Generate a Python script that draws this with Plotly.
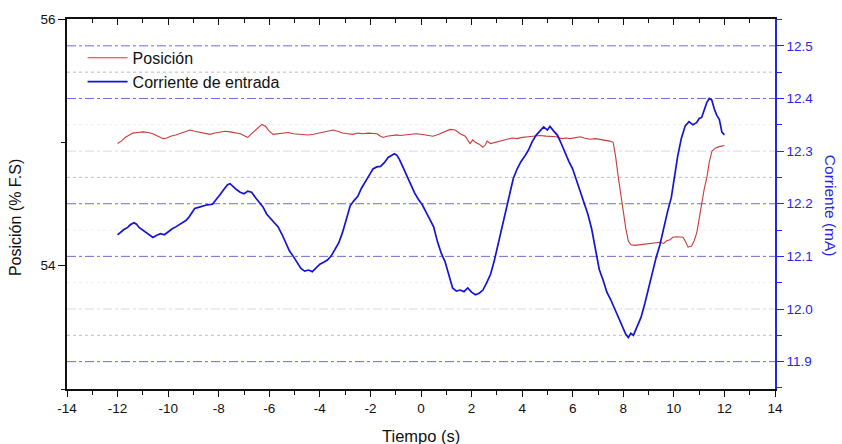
import plotly.graph_objects as go

# ---- Posición (% F.S) vs tiempo ----
t_pos = [-12.00, -11.85, -11.70, -11.55, -11.40, -11.20, -11.00, -10.80, -10.60, -10.40,
         -10.20, -10.05, -9.90, -9.70, -9.50, -9.30, -9.13, -8.95, -8.75, -8.55,
         -8.34, -8.15, -7.95, -7.75, -7.55, -7.35, -7.15, -6.95, -6.85, -6.70,
         -6.55, -6.40, -6.29, -6.15, -6.00, -5.85, -5.65, -5.45, -5.25, -5.05,
         -4.85, -4.65, -4.45, -4.25, -4.05, -3.85, -3.65, -3.48, -3.30, -3.10,
         -2.90, -2.69, -2.50, -2.30, -2.10, -1.90, -1.74, -1.60, -1.50, -1.35,
         -1.15, -0.95, -0.83, -0.60, -0.40, -0.20, 0.00, 0.20, 0.47, 0.70,
         0.95, 1.15, 1.35, 1.55, 1.75, 1.85, 1.94, 2.05, 2.15, 2.30,
         2.45, 2.55, 2.61, 2.75, 2.95, 3.12, 3.40, 3.60, 3.80, 4.00,
         4.25, 4.45, 4.70, 4.95, 5.15, 5.35, 5.55, 5.77, 5.90, 6.10,
         6.30, 6.45, 6.68, 6.90, 7.10, 7.30, 7.47, 7.60, 7.70, 7.80,
         7.90, 8.00, 8.10, 8.20, 8.30, 8.45, 8.66, 8.85, 9.05, 9.25,
         9.45, 9.60, 9.70, 9.85, 9.96, 10.10, 10.25, 10.36, 10.45, 10.56,
         10.70, 10.80, 10.91, 11.00, 11.11, 11.20, 11.31, 11.40, 11.51, 11.65,
         11.80, 12.00]
posicion = [54.99, 55.01, 55.04, 55.06, 55.075, 55.08, 55.085, 55.08, 55.07, 55.05,
            55.03, 55.035, 55.05, 55.06, 55.075, 55.09, 55.10, 55.09, 55.08, 55.07,
            55.065, 55.075, 55.085, 55.09, 55.085, 55.075, 55.07, 55.05, 55.04, 55.07,
            55.10, 55.13, 55.145, 55.13, 55.09, 55.065, 55.07, 55.075, 55.08, 55.07,
            55.065, 55.06, 55.06, 55.065, 55.075, 55.08, 55.09, 55.10, 55.09, 55.075,
            55.07, 55.065, 55.075, 55.07, 55.075, 55.07, 55.07, 55.05, 55.04, 55.05,
            55.055, 55.06, 55.056, 55.06, 55.065, 55.07, 55.065, 55.06, 55.05, 55.065,
            55.09, 55.105, 55.10, 55.07, 55.05, 55.02, 54.99, 55.02, 55.00, 54.985,
            54.96, 54.98, 55.01, 54.99, 55.00, 55.01, 55.02, 55.035, 55.03, 55.04,
            55.045, 55.05, 55.056, 55.05, 55.045, 55.045, 55.03, 55.035, 55.03, 55.035,
            55.045, 55.035, 55.025, 55.03, 55.025, 55.02, 55.01, 55.00, 54.88, 54.72,
            54.57, 54.43, 54.30, 54.20, 54.17, 54.165, 54.17, 54.175, 54.18, 54.185,
            54.19, 54.18, 54.20, 54.21, 54.23, 54.235, 54.23, 54.23, 54.20, 54.15,
            54.16, 54.20, 54.27, 54.38, 54.50, 54.62, 54.72, 54.84, 54.93, 54.955,
            54.965, 54.975]

# ---- Corriente de entrada (mA) vs tiempo ----
t_cor = [-12.00, -11.90, -11.75, -11.60, -11.50, -11.35, -11.25, -11.15, -11.00, -10.85,
         -10.70, -10.60, -10.45, -10.30, -10.15, -10.00, -9.85, -9.70, -9.55, -9.45,
         -9.30, -9.20, -9.05, -8.95, -8.80, -8.62, -8.45, -8.25, -8.10, -7.95,
         -7.80, -7.65, -7.55, -7.45, -7.30, -7.15, -7.00, -6.85, -6.70, -6.55,
         -6.40, -6.25, -6.10, -5.95, -5.80, -5.65, -5.50, -5.35, -5.20, -5.05,
         -4.90, -4.75, -4.60, -4.45, -4.30, -4.15, -4.00, -3.85, -3.70, -3.55,
         -3.40, -3.25, -3.10, -2.95, -2.80, -2.65, -2.50, -2.35, -2.20, -2.05,
         -1.90, -1.75, -1.60, -1.45, -1.30, -1.15, -1.05, -0.95, -0.85, -0.70,
         -0.55, -0.40, -0.25, -0.10, 0.05, 0.20, 0.35, 0.50, 0.65, 0.80,
         0.95, 1.10, 1.25, 1.40, 1.55, 1.70, 1.85, 2.00, 2.15, 2.30,
         2.45, 2.60, 2.75, 2.90, 3.05, 3.20, 3.35, 3.50, 3.65, 3.80,
         3.95, 4.10, 4.25, 4.40, 4.55, 4.70, 4.85, 5.00, 5.10, 5.25,
         5.40, 5.55, 5.70, 5.85, 6.00, 6.15, 6.30, 6.45, 6.60, 6.75,
         6.90, 7.05, 7.20, 7.35, 7.50, 7.65, 7.80, 7.95, 8.10, 8.20,
         8.30, 8.40, 8.55, 8.70, 8.85, 9.00, 9.15, 9.30, 9.45, 9.60,
         9.75, 9.90, 10.05, 10.15, 10.30, 10.45, 10.60, 10.75, 10.90, 11.00,
         11.10, 11.20, 11.30, 11.40, 11.50, 11.60, 11.70, 11.80, 11.90, 12.00]
corriente = [12.141, 12.145, 12.151, 12.155, 12.160, 12.164, 12.161, 12.155, 12.150, 12.145,
             12.139, 12.136, 12.140, 12.143, 12.141, 12.147, 12.152, 12.156, 12.160, 12.163,
             12.168, 12.173, 12.183, 12.191, 12.193, 12.196, 12.198, 12.199, 12.207, 12.217,
             12.227, 12.236, 12.238, 12.233, 12.227, 12.222, 12.219, 12.224, 12.222, 12.212,
             12.203, 12.194, 12.180, 12.172, 12.162, 12.156, 12.142, 12.126, 12.110, 12.100,
             12.089, 12.077, 12.072, 12.074, 12.071, 12.079, 12.085, 12.089, 12.093, 12.101,
             12.114, 12.126, 12.146, 12.172, 12.196, 12.206, 12.214, 12.230, 12.243, 12.254,
             12.266, 12.270, 12.271, 12.278, 12.288, 12.293, 12.295, 12.292, 12.284, 12.268,
             12.251, 12.236, 12.220, 12.208, 12.198, 12.184, 12.170, 12.156, 12.128, 12.106,
             12.090, 12.066, 12.040, 12.034, 12.036, 12.033, 12.040, 12.032, 12.027, 12.030,
             12.036, 12.050, 12.066, 12.092, 12.124, 12.158, 12.190, 12.221, 12.248, 12.266,
             12.280, 12.290, 12.302, 12.318, 12.330, 12.338, 12.346, 12.340, 12.347, 12.338,
             12.330, 12.314, 12.296, 12.280, 12.266, 12.245, 12.222, 12.200, 12.180, 12.152,
             12.110, 12.075, 12.055, 12.032, 12.018, 12.002, 11.983, 11.968, 11.952, 11.946,
             11.954, 11.950, 11.968, 11.984, 12.010, 12.040, 12.068, 12.098, 12.122, 12.155,
             12.185, 12.212, 12.262, 12.290, 12.325, 12.348, 12.356, 12.350, 12.354, 12.362,
             12.364, 12.378, 12.392, 12.400, 12.397, 12.380, 12.368, 12.360, 12.336, 12.331]

# ---- ejes ----
x_ticks = list(range(-14, 15, 2))
x_tick_text = [str(v) for v in x_ticks]
pos_ticks = [54, 56]
cor_ticks = [11.9, 12.0, 12.1, 12.2, 12.3, 12.4, 12.5]

# líneas de referencia sobre el eje de corriente
grid_main = [12.5, 12.4, 12.2, 12.1, 11.9]
grid_soft = [12.3, 12.0]
grid_half = [12.45, 12.25, 11.95]
grid_faint = [12.35, 12.15, 12.05]

FONT = "Arial, Liberation Sans, sans-serif"
RED = "#c83a3a"
BLUE = "#1414d2"
AXIS_BLUE = "#2626e6"

fig = go.Figure()
fig.add_trace(go.Scatter(x=t_pos, y=posicion, name="Posición", mode="lines",
                         line=dict(color=RED, width=1.1), yaxis="y"))
fig.add_trace(go.Scatter(x=t_cor, y=corriente, name="Corriente de entrada", mode="lines",
                         line=dict(color=BLUE, width=1.7), yaxis="y2"))

shapes = []
for v in grid_main:
    shapes.append(dict(type="line", xref="paper", x0=0, x1=1, yref="y2", y0=v, y1=v,
                       layer="below", line=dict(color="rgba(60,60,200,0.75)", width=1, dash="dashdot")))
for v in grid_soft:
    shapes.append(dict(type="line", xref="paper", x0=0, x1=1, yref="y2", y0=v, y1=v,
                       layer="below", line=dict(color="rgba(120,120,210,0.3)", width=1, dash="dashdot")))
for v in grid_half:
    shapes.append(dict(type="line", xref="paper", x0=0, x1=1, yref="y2", y0=v, y1=v,
                       layer="below", line=dict(color="rgba(150,165,175,0.7)", width=1, dash="dot")))
for v in grid_faint:
    shapes.append(dict(type="line", xref="paper", x0=0, x1=1, yref="y2", y0=v, y1=v,
                       layer="below", line=dict(color="rgba(190,195,215,0.3)", width=1, dash="dot")))

tick_font = dict(family=FONT, size=13.5, color="#111")

fig.update_layout(
    width=842, height=444,
    margin=dict(l=67, r=67, t=17, b=55),
    paper_bgcolor="white", plot_bgcolor="white",
    font=dict(family=FONT, color="#111"),
    shapes=shapes,
    showlegend=True,
    legend=dict(x=0.022, y=0.941, xanchor="left", yanchor="top",
                bgcolor="rgba(0,0,0,0)", borderwidth=0,
                font=dict(family=FONT, size=16, color="#111"),
                itemwidth=40, tracegroupgap=0),
    xaxis=dict(range=[-14, 14], tickvals=x_ticks, ticktext=x_tick_text,
               showgrid=False, zeroline=False, showline=True, linecolor="#111", linewidth=1.5,
               ticks="outside", ticklen=6, tickwidth=1.2, tickcolor="#111",
               minor=dict(dtick=1, ticks="outside", ticklen=4, tickwidth=1.2, tickcolor="#111", showgrid=False),
               tickfont=tick_font),
    xaxis2=dict(range=[-14, 14], overlaying="x", side="top", matches="x",
                tickvals=x_ticks, showticklabels=False,
                showgrid=False, zeroline=False, showline=True, linecolor="#111", linewidth=1.5,
                ticks="inside", ticklen=6, tickwidth=1.2, tickcolor="#111",
                minor=dict(dtick=1, ticks="inside", ticklen=4, tickwidth=1.2, tickcolor="#111", showgrid=False)),
    yaxis=dict(range=[53, 56], tickvals=pos_ticks,
               showgrid=False, zeroline=False, showline=True, linecolor="#111", linewidth=1.5,
               ticks="outside", ticklen=7, tickwidth=1.2, tickcolor="#111",
               minor=dict(tickvals=[53, 55], ticks="outside", ticklen=4, tickwidth=1.2, tickcolor="#111", showgrid=False),
               tickfont=tick_font),
    yaxis2=dict(range=[11.848, 12.551], overlaying="y", side="right",
                tickvals=cor_ticks, tickformat=".1f",
                showgrid=False, zeroline=False, showline=True, linecolor=AXIS_BLUE, linewidth=1.5,
                ticks="outside", ticklen=7, tickwidth=1.2, tickcolor=AXIS_BLUE,
                minor=dict(dtick=0.05, tick0=11.9, ticks="outside", ticklen=5, tickwidth=1.2,
                           tickcolor=AXIS_BLUE, showgrid=False),
                tickfont=dict(family=FONT, size=13.5, color=AXIS_BLUE)),
    annotations=[
        dict(text="Tiempo (s)", xref="paper", yref="paper", x=0.5, y=-0.126,
             showarrow=False, xanchor="center", yanchor="middle",
             font=dict(family=FONT, size=16.5, color="#111")),
        dict(text="Posición (% F.S)", xref="paper", yref="paper", x=-0.0734, y=0.462,
             showarrow=False, textangle=-90, xanchor="center", yanchor="middle",
             font=dict(family=FONT, size=16, color="#111")),
        dict(text="Corriente (mA)", xref="paper", yref="paper", x=1.0777, y=0.495,
             showarrow=False, textangle=90, xanchor="center", yanchor="middle",
             font=dict(family=FONT, size=15.5, color=AXIS_BLUE)),
    ],
)

# eje superior sin datos: traza vacía para que se dibuje
fig.add_trace(go.Scatter(x=[], y=[], xaxis="x2", showlegend=False, hoverinfo="skip"))

fig.write_html("out.html")
